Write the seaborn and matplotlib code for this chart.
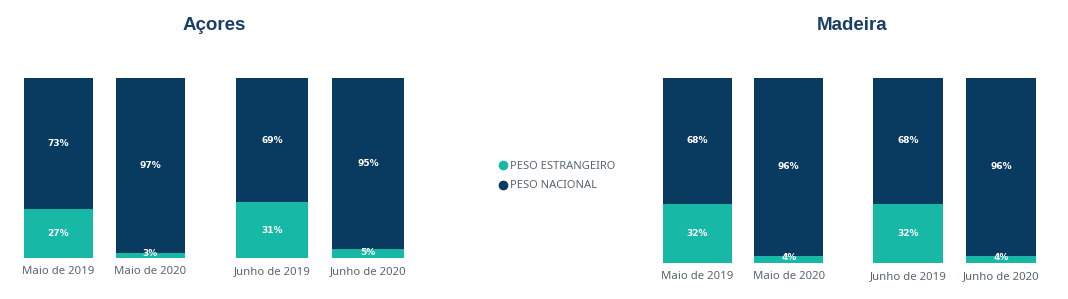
import matplotlib
matplotlib.use("Agg")
import matplotlib.pyplot as plt
import seaborn as sns
import pandas as pd
from matplotlib.lines import Line2D

sns.set_theme(style="white")
plt.rcParams['font.family'] = ['Noto Sans', 'DejaVu Sans']

regions = ["Açores", "Madeira"]
months = ["Maio de 2019", "Maio de 2020", "Junho de 2019", "Junho de 2020"]
acores_estrangeiro = [27, 3, 31, 5]
acores_nacional = [73, 97, 69, 95]
madeira_estrangeiro = [32, 4, 32, 4]
madeira_nacional = [68, 96, 68, 96]
series_names = ["PESO ESTRANGEIRO", "PESO NACIONAL"]

NAVY = "#093A60"
TEAL = "#18B8A7"
TITLE_C = "#1B3E66"
TICK_C = "#5a6470"

W, H = 1068, 299
fig = plt.figure(figsize=(W / 100, H / 100), dpi=100)

def px_axes(x0, x1, ytop, ybot):
    return fig.add_axes([x0 / W, 1 - ybot / H, (x1 - x0) / W, (ybot - ytop) / H])

layout = {
    "Açores": {"pairs": [(12, 196), (224, 416)], "ytop": 78, "ybot": 258, "title_x": 214},
    "Madeira": {"pairs": [(651.5, 834.5), (861.5, 1047.5)], "ytop": 78, "ybot": 263, "title_x": 852},
}
data = {
    "Açores": (acores_estrangeiro, acores_nacional),
    "Madeira": (madeira_estrangeiro, madeira_nacional),
}

for reg in regions:
    est, nac = data[reg]
    lay = layout[reg]
    for p, (x0, x1) in enumerate(lay["pairs"]):
        ax = px_axes(x0, x1, lay["ytop"], lay["ybot"])
        idx = [2 * p, 2 * p + 1]
        df = pd.DataFrame({
            "mes": [months[i] for i in idx],
            "est": [est[i] for i in idx],
            "nac": [nac[i] for i in idx],
        })
        df["total"] = df["est"] + df["nac"]
        sns.barplot(data=df, x="mes", y="total", color=NAVY, width=0.75,
                    saturation=1, ax=ax, linewidth=0)
        sns.barplot(data=df, x="mes", y="est", color=TEAL, width=0.75,
                    saturation=1, ax=ax, linewidth=0)
        for k in range(len(df)):
            e = df["est"].iloc[k]
            n = df["nac"].iloc[k]
            ax.text(k, e + n / 2, f"{n}%", ha="center", va="center",
                    color="white", fontsize=6.5, fontweight="bold", family="DejaVu Sans")
            ax.text(k, e / 2 if e > 8 else e / 2 + 0.8, f"{e}%", ha="center", va="center",
                    color="white", fontsize=6.5, fontweight="bold", family="DejaVu Sans")
        ax.set_ylim(0, 100)
        ax.set_xlim(-0.5, 1.5)
        ax.set_xlabel("")
        ax.set_ylabel("")
        ax.set_yticks([])
        ax.tick_params(axis="x", length=0, pad=5.5, labelsize=8.2, labelcolor=TICK_C)
        for s in ax.spines.values():
            s.set_visible(False)
        ax.patch.set_alpha(0)
    fig.text(lay["title_x"] / W, 1 - 26 / H, reg, ha="center", va="center",
             fontsize=13.5, fontweight="bold", color=TITLE_C, family="Liberation Sans")

handles = [
    Line2D([], [], marker="o", linestyle="", markersize=6, color=TEAL, label=series_names[0]),
    Line2D([], [], marker="o", linestyle="", markersize=6, color=NAVY, label=series_names[1]),
]
leg = fig.legend(handles=handles, loc="center left", bbox_to_anchor=(491 / W, 1 - 176 / H),
                 frameon=False, fontsize=8, handletextpad=0.0, labelspacing=0.8,
                 borderpad=0, handlelength=1.2)
for t in leg.get_texts():
    t.set_color(TICK_C)

fig.savefig("out.png", dpi=100)
